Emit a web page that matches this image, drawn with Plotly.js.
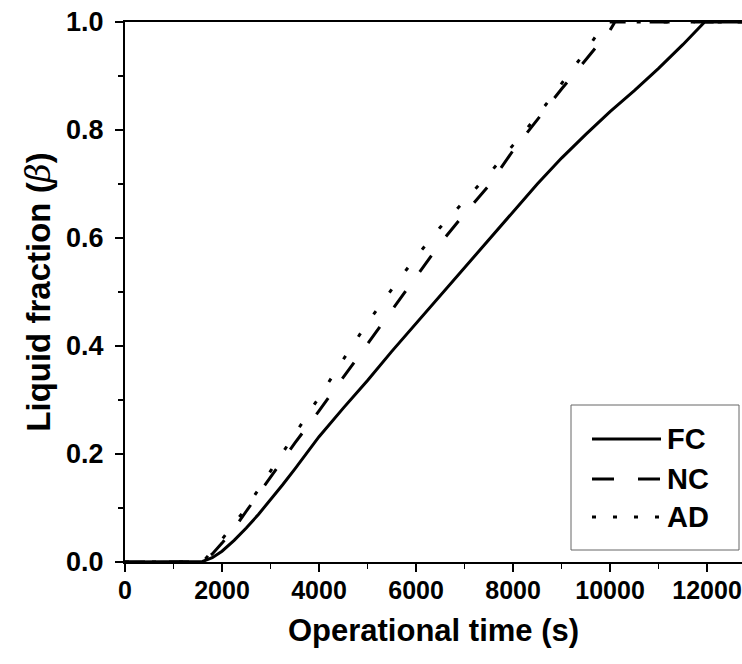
<!DOCTYPE html>
<html>
<head>
<meta charset="utf-8">
<script src="https://cdn.plot.ly/plotly-3.0.1.min.js"></script>
<style>html,body{margin:0;padding:0;background:#fff;}#chart{width:742px;height:664px;}</style>
</head>
<body>
<div id="chart"></div>
<script>
// Operational time (s) and liquid fraction for each case
const timeFC = [0, 1500, 1600, 1800, 2000, 2250, 2500, 2750, 3000, 3250, 3500, 4000, 4500, 5000, 5500, 6000, 6500, 7000, 7500, 8000, 8500, 9000, 9500, 10000, 10500, 11000, 11500, 11950, 12800];
const betaFC = [0, 0, 0.001, 0.008, 0.02, 0.04, 0.063, 0.088, 0.115, 0.143, 0.172, 0.232, 0.285, 0.336, 0.390, 0.442, 0.494, 0.545, 0.598, 0.648, 0.700, 0.748, 0.792, 0.834, 0.873, 0.914, 0.958, 1.0, 1.0];

const timeNC = [0, 1500, 1650, 1800, 2000, 2250, 2500, 3000, 3500, 4000, 4500, 5000, 5500, 6000, 6500, 7000, 7500, 8000, 8500, 9000, 9500, 10000, 10100, 12800];
const betaNC = [0, 0, 0.004, 0.015, 0.035, 0.062, 0.094, 0.158, 0.220, 0.280, 0.342, 0.405, 0.465, 0.527, 0.590, 0.645, 0.697, 0.762, 0.820, 0.876, 0.930, 0.985, 1.0, 1.0];

const timeAD = [0, 1500, 1650, 1800, 2000, 2500, 3000, 3500, 4000, 4500, 5000, 5500, 6000, 6500, 7000, 7500, 8000, 8500, 9000, 9500, 9900, 12800];
const betaAD = [0, 0, 0.005, 0.02, 0.042, 0.100, 0.168, 0.236, 0.305, 0.375, 0.443, 0.505, 0.565, 0.620, 0.668, 0.718, 0.772, 0.826, 0.886, 0.946, 1.0, 1.0];

const seriesNames = ['FC', 'NC', 'AD'];
const xTickVals = [0, 2000, 4000, 6000, 8000, 10000, 12000];
const yTickVals = [0.0, 0.2, 0.4, 0.6, 0.8, 1.0];

const FONT = 'Liberation Sans, Arial, sans-serif';
const NC_DASH = '20px,24px';
const AD_DASH = '4px,23px';

const traces = [
  {x: timeFC, y: betaFC, name: seriesNames[0], mode: 'lines', line: {color: '#000', width: 3}},
  {x: timeNC, y: betaNC, name: seriesNames[1], mode: 'lines', line: {color: '#000', width: 3, dash: NC_DASH}},
  {x: timeAD, y: betaAD, name: seriesNames[2], mode: 'lines', line: {color: '#000', width: 3, dash: AD_DASH}}
];

// legend drawn in paper coordinates
const L = 125, T = 22, W = 617, H = 540;
const px = v => (v - L) / W;
const py = v => (T + H - v) / H;
const shapes = [
  {type: 'rect', xref: 'paper', yref: 'paper', x0: px(571), x1: px(739), y0: py(405), y1: py(550), line: {color: '#666', width: 1}, fillcolor: 'rgba(0,0,0,0)'}
];
const legY = [439, 479, 517];
const legDash = ['solid', '22px,24px', '4px,17px'];
const annotations = [];
seriesNames.forEach((n, i) => {
  shapes.push({type: 'line', xref: 'paper', yref: 'paper', x0: px(592), x1: px(661), y0: py(legY[i]), y1: py(legY[i]), line: {color: '#000', width: 3, dash: legDash[i]}});
  annotations.push({xref: 'paper', yref: 'paper', x: px(665), y: py(legY[i]), xanchor: 'left', yanchor: 'middle', text: n, showarrow: false, font: {family: FONT, size: 29, color: '#000', weight: 'bold'}});
});

const layout = {
  width: 742, height: 664,
  margin: {l: L, r: 0, t: T, b: 664 - T - H},
  paper_bgcolor: '#fff', plot_bgcolor: '#fff',
  showlegend: false,
  font: {family: FONT, color: '#000'},
  xaxis: {
    range: [0, 12720], showgrid: false, zeroline: false,
    showline: true, linecolor: '#000', linewidth: 2, mirror: true,
    ticks: 'outside', ticklen: 8, tickwidth: 2, tickcolor: '#000',
    tickvals: xTickVals, ticktext: xTickVals.map(String),
    tickfont: {family: FONT, size: 25, weight: 'bold'},
    ticklabelstandoff: -3,
    minor: {dtick: 1000, ticks: 'outside', ticklen: 5, tickwidth: 1.5, tickcolor: '#000', showgrid: false},
    title: {text: 'Operational time (s)', font: {family: FONT, size: 31, weight: 'bold'}, standoff: 16}
  },
  yaxis: {
    range: [0, 1], showgrid: false, zeroline: false,
    showline: true, linecolor: '#000', linewidth: 2,
    ticks: 'outside', ticklen: 8, tickwidth: 2, tickcolor: '#000',
    tickvals: yTickVals, ticktext: yTickVals.map(v => v.toFixed(1)),
    tickfont: {family: FONT, size: 27, weight: 'bold'},
    ticklabelstandoff: 6,
    minor: {dtick: 0.1, ticks: 'outside', ticklen: 5, tickwidth: 1.5, tickcolor: '#000', showgrid: false},
    title: {text: 'Liquid fraction (<span style="font-family:\'DejaVu Serif\';font-weight:normal"><i>β</i></span>)', font: {family: FONT, size: 33, weight: 'bold'}, standoff: 6}
  },
  shapes: shapes,
  annotations: annotations
};

Plotly.newPlot('chart', traces, layout, {displayModeBar: false, staticPlot: true});
</script>
</body>
</html>
